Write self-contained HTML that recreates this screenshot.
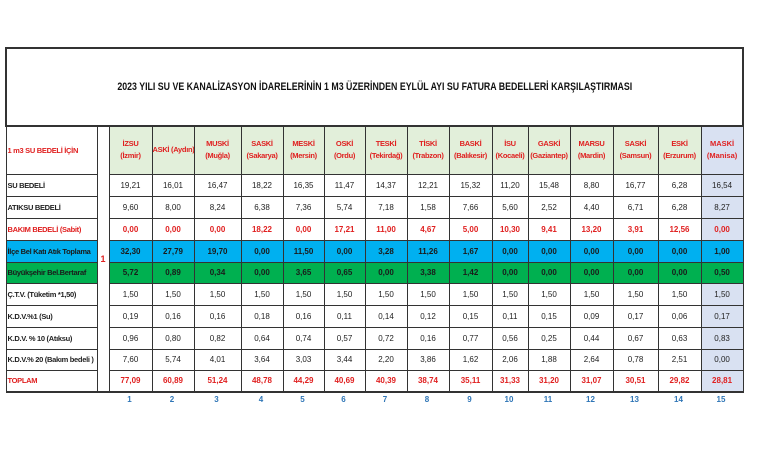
<!DOCTYPE html>
<html><head><meta charset="utf-8">
<style>
html,body{margin:0;padding:0;background:#fff;}
body{width:760px;height:450px;position:relative;overflow:hidden;font-family:"Liberation Sans",sans-serif;}
table{position:absolute;left:5px;top:47px;border-collapse:collapse;table-layout:fixed;width:738px;}
td{border:1px solid #333;padding:0;text-align:center;font-size:8px;color:#222;white-space:nowrap;overflow:hidden;}
td.l{text-align:left;padding-left:1px;font-weight:bold;font-size:7.5px;letter-spacing:-0.3px;}
.t{font-weight:bold;font-size:11px;color:#111;border:2px solid #333;}
.t span{display:inline-block;transform:scaleX(0.8);}
.h{background:#e2efda;color:#e02020;font-weight:bold;font-size:7.5px;line-height:12px;letter-spacing:-0.3px;}
.m{background:#d9e1f2;}
.hm{background:#d9e1f2;color:#e02020;font-weight:bold;font-size:7.5px;line-height:12px;}
.r td{color:#e02020;font-weight:bold;}
.b td{background:#00b0f0;font-weight:bold;color:#1a1a1a;}
.g td{background:#00b050;font-weight:bold;color:#1a1a1a;}
.n{border-left:1px solid #333;border-right:1px solid #333;color:#e02020;font-weight:bold;font-size:9px;background:#fff;}
.nums{position:absolute;top:395px;left:0;font-size:8px;color:#2e75b6;font-weight:bold;}
.nums span{position:absolute;text-align:center;}
</style></head><body>
<table>
<colgroup>
<col style="width:91px"><col style="width:12px">
<col style="width:43px"><col style="width:42px"><col style="width:47px"><col style="width:42px"><col style="width:41px"><col style="width:41px"><col style="width:42px"><col style="width:42px"><col style="width:43px"><col style="width:36px"><col style="width:42px"><col style="width:43px"><col style="width:45px"><col style="width:43px"><col style="width:42px">
</colgroup>
<tr style="height:78px"><td class="t" colspan="17"><span>2023 YILI SU VE KANALİZASYON İDARELERİNİN 1 M3 ÜZERİNDEN EYLÜL AYI SU FATURA BEDELLERİ KARŞILAŞTIRMASI</span></td></tr>
<tr style="height:48px"><td class="l" style="color:#e02020">1 m3 SU BEDELİ İÇİN</td><td class="n" rowspan="11">1</td>
<td class="h">İZSU<br>(İzmir)</td><td class="h">ASKİ (Aydın)</td><td class="h">MUSKİ<br>(Muğla)</td><td class="h">SASKİ<br>(Sakarya)</td><td class="h">MESKİ<br>(Mersin)</td><td class="h">OSKİ<br>(Ordu)</td><td class="h">TESKİ<br>(Tekirdağ)</td><td class="h">TİSKİ<br>(Trabzon)</td><td class="h">BASKİ<br>(Balıkesir)</td><td class="h">İSU<br>(Kocaeli)</td><td class="h">GASKİ<br>(Gaziantep)</td><td class="h">MARSU<br>(Mardin)</td><td class="h">SASKİ<br>(Samsun)</td><td class="h">ESKİ<br>(Erzurum)</td><td class="hm">MASKİ<br>(Manisa)</td></tr>
<tr style="height:22px"><td class="l">SU BEDELİ</td><td>19,21</td><td>16,01</td><td>16,47</td><td>18,22</td><td>16,35</td><td>11,47</td><td>14,37</td><td>12,21</td><td>15,32</td><td>11,20</td><td>15,48</td><td>8,80</td><td>16,77</td><td>6,28</td><td class="m">16,54</td></tr>
<tr style="height:22px"><td class="l">ATIKSU BEDELİ</td><td>9,60</td><td>8,00</td><td>8,24</td><td>6,38</td><td>7,36</td><td>5,74</td><td>7,18</td><td>1,58</td><td>7,66</td><td>5,60</td><td>2,52</td><td>4,40</td><td>6,71</td><td>6,28</td><td class="m">8,27</td></tr>
<tr class="r" style="height:22px"><td class="l">BAKIM BEDELİ (Sabit)</td><td>0,00</td><td>0,00</td><td>0,00</td><td>18,22</td><td>0,00</td><td>17,21</td><td>11,00</td><td>4,67</td><td>5,00</td><td>10,30</td><td>9,41</td><td>13,20</td><td>3,91</td><td>12,56</td><td class="m">0,00</td></tr>
<tr class="b" style="height:22px"><td class="l">İlçe Bel Katı Atık Toplama</td><td>32,30</td><td>27,79</td><td>19,70</td><td>0,00</td><td>11,50</td><td>0,00</td><td>3,28</td><td>11,26</td><td>1,67</td><td>0,00</td><td>0,00</td><td>0,00</td><td>0,00</td><td>0,00</td><td>1,00</td></tr>
<tr class="g" style="height:21px"><td class="l">Büyükşehir Bel.Bertaraf</td><td>5,72</td><td>0,89</td><td>0,34</td><td>0,00</td><td>3,65</td><td>0,65</td><td>0,00</td><td>3,38</td><td>1,42</td><td>0,00</td><td>0,00</td><td>0,00</td><td>0,00</td><td>0,00</td><td>0,50</td></tr>
<tr style="height:22px"><td class="l">Ç.T.V. (Tüketim *1,50)</td><td>1,50</td><td>1,50</td><td>1,50</td><td>1,50</td><td>1,50</td><td>1,50</td><td>1,50</td><td>1,50</td><td>1,50</td><td>1,50</td><td>1,50</td><td>1,50</td><td>1,50</td><td>1,50</td><td class="m">1,50</td></tr>
<tr style="height:22px"><td class="l">K.D.V.%1 (Su)</td><td>0,19</td><td>0,16</td><td>0,16</td><td>0,18</td><td>0,16</td><td>0,11</td><td>0,14</td><td>0,12</td><td>0,15</td><td>0,11</td><td>0,15</td><td>0,09</td><td>0,17</td><td>0,06</td><td class="m">0,17</td></tr>
<tr style="height:22px"><td class="l">K.D.V. % 10 (Atıksu)</td><td>0,96</td><td>0,80</td><td>0,82</td><td>0,64</td><td>0,74</td><td>0,57</td><td>0,72</td><td>0,16</td><td>0,77</td><td>0,56</td><td>0,25</td><td>0,44</td><td>0,67</td><td>0,63</td><td class="m">0,83</td></tr>
<tr style="height:21px"><td class="l">K.D.V.% 20 (Bakım bedeli )</td><td>7,60</td><td>5,74</td><td>4,01</td><td>3,64</td><td>3,03</td><td>3,44</td><td>2,20</td><td>3,86</td><td>1,62</td><td>2,06</td><td>1,88</td><td>2,64</td><td>0,78</td><td>2,51</td><td class="m">0,00</td></tr>
<tr class="r" style="height:22px;border-bottom:2px solid #333"><td class="l">TOPLAM</td><td>77,09</td><td>60,89</td><td>51,24</td><td>48,78</td><td>44,29</td><td>40,69</td><td>40,39</td><td>38,74</td><td>35,11</td><td>31,33</td><td>31,20</td><td>31,07</td><td>30,51</td><td>29,82</td><td class="m">28,81</td></tr>
</table>
<div class="nums">
<span style="left:108px;width:43px">1</span><span style="left:151px;width:42px">2</span><span style="left:193px;width:47px">3</span><span style="left:240px;width:42px">4</span><span style="left:282px;width:41px">5</span><span style="left:323px;width:41px">6</span><span style="left:364px;width:42px">7</span><span style="left:406px;width:42px">8</span><span style="left:448px;width:43px">9</span><span style="left:491px;width:36px">10</span><span style="left:527px;width:42px">11</span><span style="left:569px;width:43px">12</span><span style="left:612px;width:45px">13</span><span style="left:657px;width:43px">14</span><span style="left:700px;width:42px">15</span>
</div>
</body></html>
